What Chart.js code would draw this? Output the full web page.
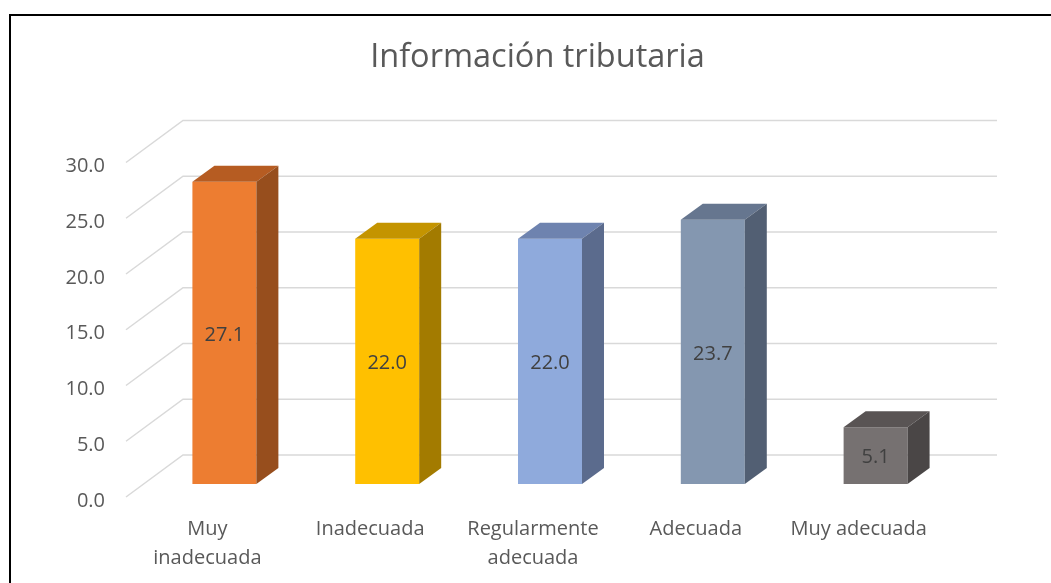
<!DOCTYPE html>
<html>
<head>
<meta charset="utf-8">
<script src="https://cdn.jsdelivr.net/npm/chart.js@4.4.0/dist/chart.umd.min.js"></script>
<style>
  body { margin: 0; background: #fff; }
</style>
</head>
<body>
<canvas id="grafico" width="1051" height="583"></canvas>
<script>
// datos del gráfico
const titulo = 'Información tributaria';
const categorias = [['Muy', 'inadecuada'], 'Inadecuada', ['Regularmente', 'adecuada'], 'Adecuada', 'Muy adecuada'];
const porcentajes = [27.1, 22.0, 22.0, 23.7, 5.1];
const ticksY = [0, 5, 10, 15, 20, 25, 30];

// colores de cada barra: frente, tapa y costado
const frente = ['#ED7D31', '#FFC000', '#8FAADC', '#8497B0', '#767171'];
const tapa = ['#B65C22', '#C49400', '#6E83AF', '#66768F', '#595454'];
const costado = ['#974E1D', '#A37B00', '#5B6B8D', '#525F73', '#4A4646'];

const fuente = '"Open Sans", "Noto Sans", sans-serif';

// profundidad de las barras y del fondo
const barra3d = { dx: 22, dy: -16 };
const pared = { frenteX: -17, frenteY: 13, fondoX: 40, fondoY: -29 };

const efecto3d = {
  id: 'efecto3d',
  beforeDraw(chart) {
    const ctx = chart.ctx;
    ctx.save();
    ctx.fillStyle = '#fff';
    ctx.fillRect(0, 0, chart.width, chart.height);
    ctx.strokeStyle = '#000';
    ctx.lineWidth = 2;
    ctx.strokeRect(10, 15, 1200, 800);
    // título centrado sobre el marco
    ctx.fillStyle = '#595959';
    ctx.font = '32.5px ' + fuente;
    ctx.textAlign = 'center';
    ctx.textBaseline = 'middle';
    ctx.fillText(titulo, 537.5, 58);
    ctx.restore();
  },
  beforeDatasetsDraw(chart) {
    const { ctx, chartArea, scales: { y } } = chart;
    ctx.save();
    ctx.strokeStyle = '#D9D9D9';
    ctx.lineWidth = 1.5;
    ticksY.forEach(v => {
      const py = y.getPixelForValue(v);
      ctx.beginPath();
      ctx.moveTo(chartArea.left + pared.frenteX, py + pared.frenteY);
      ctx.lineTo(chartArea.left + pared.fondoX, py + pared.fondoY);
      ctx.lineTo(chartArea.right + pared.fondoX, py + pared.fondoY);
      ctx.stroke();
    });
    ctx.restore();
  },
  afterDatasetsDraw(chart) {
    const ctx = chart.ctx;
    const { dx, dy } = barra3d;
    ctx.save();
    chart.getDatasetMeta(0).data.forEach((bar, i) => {
      const { x, y, base, width } = bar.getProps(['x', 'y', 'base', 'width'], true);
      const l = x - width / 2, r = x + width / 2;
      ctx.fillStyle = tapa[i];
      ctx.beginPath();
      ctx.moveTo(l, y);
      ctx.lineTo(l + dx, y + dy);
      ctx.lineTo(r + dx, y + dy);
      ctx.lineTo(r, y);
      ctx.closePath();
      ctx.fill();
      ctx.fillStyle = costado[i];
      ctx.beginPath();
      ctx.moveTo(r, y);
      ctx.lineTo(r + dx, y + dy);
      ctx.lineTo(r + dx, base + dy);
      ctx.lineTo(r, base);
      ctx.closePath();
      ctx.fill();

      ctx.fillStyle = '#404040';
      ctx.font = '20px ' + fuente;
      ctx.textAlign = 'center';
      ctx.textBaseline = 'middle';
      ctx.fillText(porcentajes[i].toFixed(1), x, (y + base) / 2 + 2);
    });
    ctx.restore();
  }
};

new Chart(document.getElementById('grafico'), {
  type: 'bar',
  data: {
    labels: categorias,
    datasets: [{
      data: porcentajes,
      backgroundColor: frente,
      borderWidth: 0,
      barPercentage: 0.393,
      categoryPercentage: 1
    }]
  },
  options: {
    responsive: false,
    animation: false,
    layout: { padding: { left: 0, right: 94, top: 149.5, bottom: 0 } },
    plugins: {
      legend: { display: false },
      tooltip: { enabled: false },
      title: { display: false }
    },
    scales: {
      x: {
        grid: { display: false, drawTicks: false },
        border: { display: false },
        afterFit: s => { s.height = 99; },
        ticks: {
          color: '#595959',
          font: { family: fuente, size: 20, lineHeight: 1.45 },
          labelOffset: -17,
          padding: 31,
          maxRotation: 0,
          autoSkip: false
        }
      },
      y: {
        min: 0,
        max: 30,
        grid: { display: false, drawTicks: false },
        border: { display: false },
        afterFit: s => { s.width = 143; },
        ticks: {
          stepSize: 5,
          color: '#595959',
          font: { family: fuente, size: 20 },
          labelOffset: 17,
          padding: 38,
          callback: v => v.toFixed(1)
        }
      }
    }
  },
  plugins: [efecto3d]
});
</script>
</body>
</html>
